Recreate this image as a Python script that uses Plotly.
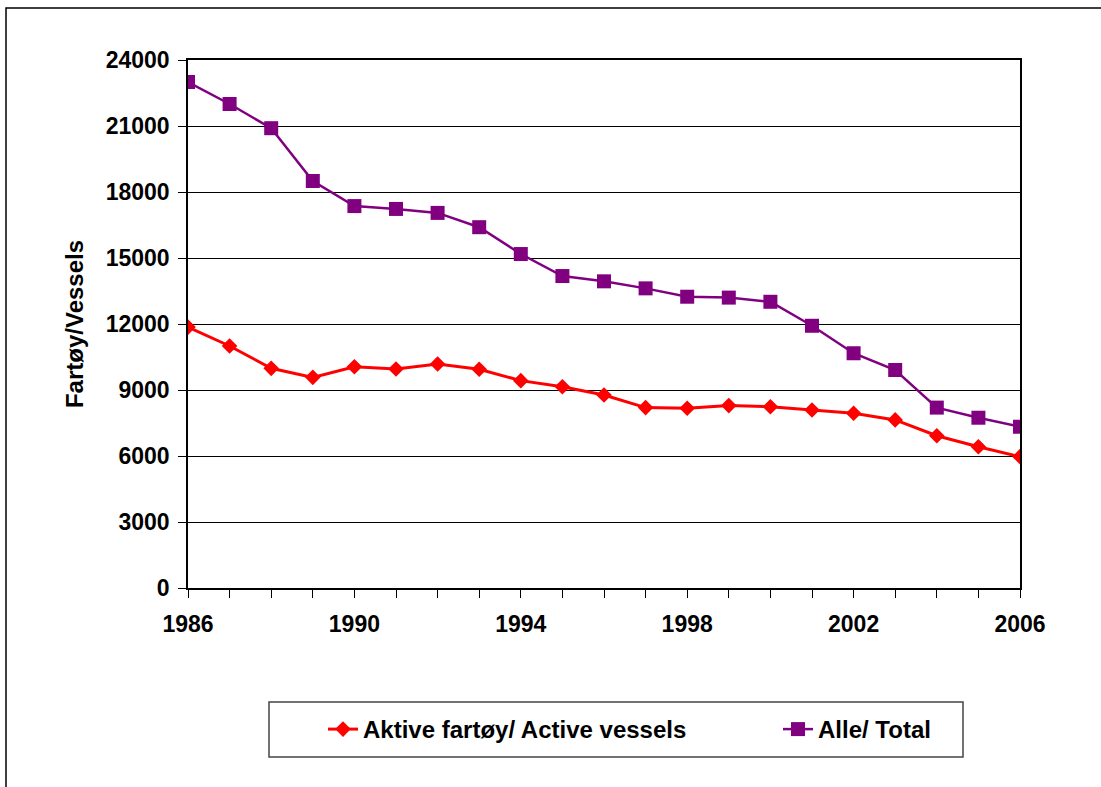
import plotly.graph_objects as go

years = list(range(1986, 2007))
active = [11860, 11000, 9985, 9575, 10060, 9955, 10180, 9940, 9425, 9150, 8770,
          8200, 8170, 8290, 8240, 8090, 7940, 7640, 6920, 6420, 5970]
total = [23000, 22000, 20900, 18500, 17360, 17230, 17050, 16400, 15180, 14180, 13940,
         13620, 13240, 13200, 13010, 11920, 10670, 9910, 8200, 7740, 7330]
name_active = "Aktive fartøy/ Active vessels"
name_total = "Alle/ Total"
y_title = "Fartøy/Vessels"
y_ticks = list(range(0, 24001, 3000))
y_ticktext = [str(v) for v in y_ticks]
x_ticks = [1986, 1990, 1994, 1998, 2002, 2006]
x_ticktext = [str(v) for v in x_ticks]

FONT = "Liberation Sans, Arial, sans-serif"

fig = go.Figure()
fig.add_trace(go.Scatter(
    x=years, y=active, name=name_active, mode="lines+markers", legend="legend",
    line=dict(color="#FF0000", width=3),
    marker=dict(symbol="diamond", size=12, color="#FF0000", line=dict(width=0)),
))
fig.add_trace(go.Scatter(
    x=years, y=total, name=name_total, mode="lines+markers", legend="legend2",
    line=dict(color="#800080", width=2.5),
    marker=dict(symbol="square", size=14, color="#800080", line=dict(width=0)),
))

OFF = 0  # body margin removed via post_script
W, H = 1101, 787
L, T = 188, 60
pw, ph = 832, 528
R = W - L - pw
B = H - T - ph


def px(x_page):
    return (x_page - OFF - L) / pw


def py(y_page):
    return (T + ph - (y_page - OFF)) / ph


legend_common = dict(
    orientation="h", yanchor="middle", y=py(729.5), xanchor="left",
    font=dict(family=FONT, size=24, color="black", weight="bold"),
    bgcolor="rgba(0,0,0,0)", borderwidth=0,
)

fig.update_layout(
    width=W, height=H,
    margin=dict(l=L, r=R, t=T, b=B, autoexpand=False),
    paper_bgcolor="white", plot_bgcolor="white",
    font=dict(family=FONT, color="black", size=23, weight="bold"),
    showlegend=True,
    legend=dict(x=px(323), **legend_common),
    legend2=dict(x=px(778), **legend_common),
    xaxis=dict(
        range=[1986, 2006], tickvals=x_ticks, ticktext=x_ticktext,
        ticks="outside", ticklen=8, tickcolor="black", tickwidth=1,
        minor=dict(dtick=1, tick0=1986, ticks="outside", ticklen=8, tickcolor="black",
                   showgrid=False),
        showgrid=False, zeroline=False, showline=True, linecolor="black", linewidth=1.5,
        mirror=True, ticklabelstandoff=7,
        tickfont=dict(family=FONT, size=23, color="black", weight="bold"),
    ),
    yaxis=dict(
        range=[0, 24000], tickvals=y_ticks, ticktext=y_ticktext,
        ticks="outside", ticklen=8, tickcolor="black", tickwidth=1,
        showgrid=True, gridcolor="black", gridwidth=1, zeroline=False,
        showline=True, linecolor="black", linewidth=1.5, mirror=True,
        ticklabelstandoff=4,
        tickfont=dict(family=FONT, size=23, color="black", weight="bold"),
        title=dict(text=y_title, standoff=15,
                   font=dict(family=FONT, size=24, color="black", weight="bold")),
    ),
    shapes=[
        dict(type="rect", xref="paper", yref="paper",
             x0=px(6), x1=px(1120), y0=py(810), y1=py(8),
             line=dict(color="black", width=1.5), layer="below"),
        dict(type="rect", xref="paper", yref="paper",
             x0=px(269), x1=px(963), y0=py(757), y1=py(702),
             line=dict(color="#444444", width=1.5), layer="below"),
    ],
)

fig.write_html("out.html", config={"displayModeBar": False},
               post_script="document.body.style.margin='0px';")
